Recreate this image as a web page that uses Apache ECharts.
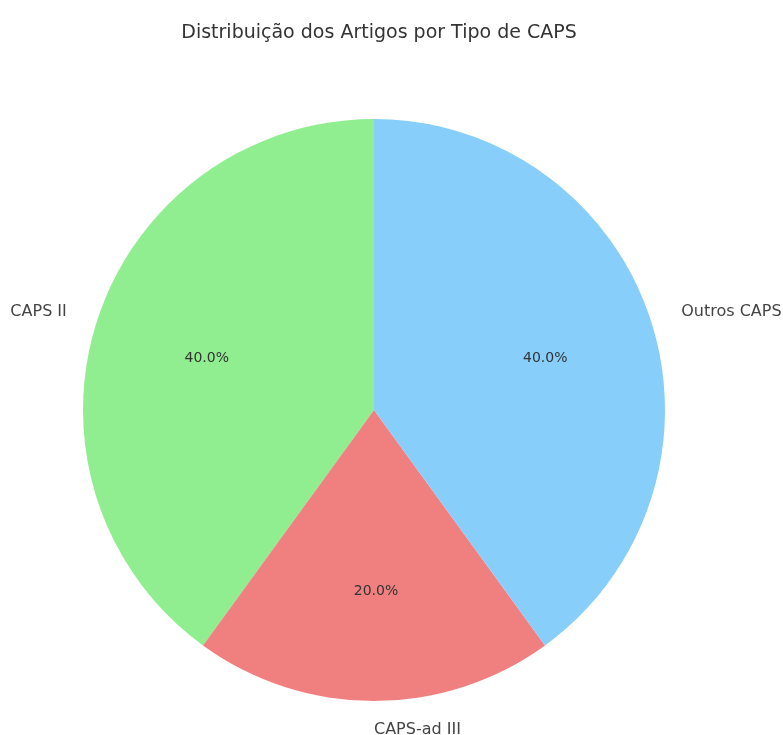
<!DOCTYPE html>
<html><head><meta charset="utf-8">
<script src="https://cdn.jsdelivr.net/npm/echarts@6/dist/echarts.min.js"></script>
<style>html,body{margin:0;padding:0;background:#fff}#c{width:783px;height:735px}</style>
</head><body><div id="c"></div>
<script>
const categories = ['CAPS II', 'CAPS-ad III', 'Outros CAPS'];
const values = [40, 20, 40];
const colors = ['#90EE90', '#F08080', '#87CEFA'];
const titleText = 'Distribuição dos Artigos por Tipo de CAPS';

const total = values.reduce((a, b) => a + b, 0);
const chart = echarts.init(document.getElementById('c'), null, {renderer: 'canvas'});
const font = 'DejaVu Sans';
const center = [374, 410];
const base = categories.map((n, i) => ({name: n, value: values[i]}));
const nameAlign = ['right', 'left', 'left'];
const nameOffset = [[0, 2], [0, -3], [0, 2]];

chart.setOption({
  animation: false,
  title: {text: titleText, left: 374, top: 19, textAlign: 'center',
    textStyle: {fontFamily: font, fontSize: 19, fontWeight: 'normal', color: '#333'}},
  series: [
    {type: 'pie', radius: [0, 291], center, startAngle: 90, clockwise: false,
      silent: true, label: {show: false}, labelLine: {show: false},
      data: base.map((d, i) => ({...d, itemStyle: {color: colors[i]}}))},
    {type: 'pie', radius: [0, 350], center, startAngle: 90, clockwise: false,
      silent: true, z: 5, itemStyle: {color: 'rgba(0,0,0,0)'},
      label: {show: true, position: 'inside', fontFamily: font, fontSize: 14, color: '#333',
        offset: [2, 3], formatter: p => (p.value / total * 100).toFixed(1) + '%'},
      labelLine: {show: false}, data: base},
    {type: 'pie', radius: [0, 640], center, startAngle: 90, clockwise: false,
      silent: true, z: 5, itemStyle: {color: 'rgba(0,0,0,0)'},
      labelLine: {show: false},
      label: {show: true, position: 'inside', fontFamily: font, fontSize: 16, color: '#444',
        formatter: '{b}'},
      labelLayout: p => ({align: nameAlign[p.dataIndex]}),
      data: base.map((d, i) => ({...d, label: {offset: nameOffset[i]}}))}
  ]
});
</script></body></html>
